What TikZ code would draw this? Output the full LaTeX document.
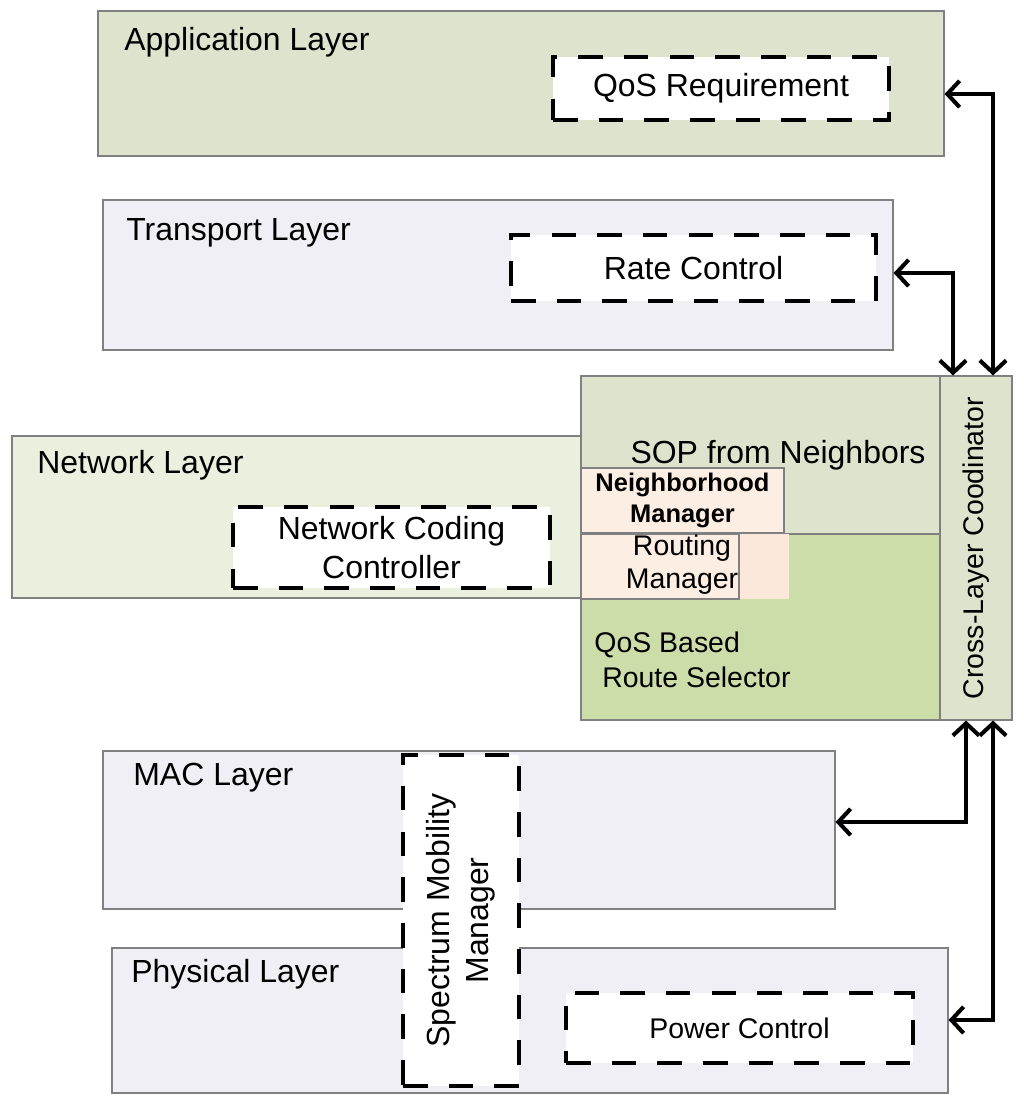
\documentclass[tikz,border=0pt]{standalone}
\usepackage{fontspec}
\setmainfont{Liberation Sans}
\usetikzlibrary{arrows.meta, positioning, calc, fit}
\definecolor{olivebg}{RGB}{221,227,204}
\definecolor{lilacbg}{RGB}{240,239,245}
\definecolor{netbg}{RGB}{235,239,222}
\definecolor{greenbg}{RGB}{204,221,170}
\definecolor{peachbg}{RGB}{253,238,227}
\definecolor{peachext}{RGB}{252,232,218}
\tikzset{
  layer/.style={rectangle, draw=black!50, line width=0.6pt, inner sep=0pt},
  module/.style={rectangle, draw=black, fill=white, line width=2.3pt,
    dash pattern=on 14pt off 12pt, inner sep=0pt},
  lname/.style={anchor=base west, inner sep=0pt, font=\fontsize{18.2}{22}\selectfont},
  mtext/.style={align=center, inner sep=0pt, font=\fontsize{18.2}{22}\selectfont},
  stext/.style={align=center, inner sep=0pt, font=\fontsize{16.2}{19}\selectfont},
  edge/.style={{Straight Barb[length=7pt, width=15pt]}-{Straight Barb[length=7pt, width=15pt]}, line width=2.3pt}
}

\begin{document}
\begin{tikzpicture}[x=0.02cm, y=-0.02cm]
    \useasboundingbox (0,0) rectangle (1024,1106);
    % protocol stack
    \node[layer, fill=olivebg, fit={(98,11) (944,156)}] (app) {};
    \node[layer, fill=lilacbg, fit={(103,200) (893,350)}] (trans) {};
    \node[layer, fill=netbg, fit={(12,436) (590,598)}] (net) {};
    \node[layer, fill=lilacbg, fit={(103,751) (835,909)}] (mac) {};
    \node[layer, fill=lilacbg, fit={(112,948) (948,1093)}] (phy) {};
    \node[lname] at (124,50) {Application Layer};
    \node[lname] at (126,240) {Transport Layer};
    \node[lname] at (37,473) {Network Layer};
    \node[lname] at (133,785) {MAC Layer};
    \node[lname] at (131,982) {Physical Layer};
    % routing block and coordinator
    \node[layer, fill=olivebg, fit={(581,376) (940,534)}] (sop) {};
    \node[layer, fill=greenbg, fit={(581,534) (940,720)}] (qrs) {};
    \node[layer, fill=olivebg, fit={(940,376) (1012,720)}] (clc) {};
    \fill[peachext] (739,534) rectangle (789,599);
    \node[layer, fill=peachbg, fit={(581,468) (784,533)}] (nbm) {};
    \node[layer, fill=peachbg, fit={(581,534) (739,599)}] (rtm) {};
    \node[mtext, anchor=base] at (778,463) {SOP from Neighbors};
    \node[stext, font=\fontsize{14.5}{17.6}\selectfont\bfseries] at (nbm) {Neighborhood\\Manager};
    \node[stext, font=\fontsize{16.2}{18.8}\selectfont] at (682,565) {Routing\\Manager};
    \node[stext, align=left, anchor=west, font=\fontsize{16.2}{20}\selectfont] at (594,660) {QoS Based\\\hspace*{4.5pt}Route Selector};
    \node[stext, rotate=90] at (clc) {Cross-Layer Coodinator};
    % modules
    \node[module, fit={(553,57) (889,120)}] (qos) {};
    \node[module, fit={(511,235) (876,301)}] (rate) {};
    \node[module, fit={(233,507) (550,588)}] (ncc) {};
    \node[module, fit={(403,755) (519,1086)}] (smm) {};
    \node[module, fit={(566,993) (913,1063)}] (pwr) {};
    \node[mtext] at (qos) {QoS Requirement};
    \node[mtext] at (rate) {Rate Control};
    \node[mtext] at (ncc) {Network Coding\\Controller};
    \node[mtext, rotate=90] at (smm) {Spectrum Mobility\\Manager};
    \node[stext] at (pwr) {Power Control};
    % cross-layer links
    \draw[edge] (clc.north -| 993,0) |- (app.east |- 0,94);
    \draw[edge] (clc.north -| 953,0) |- (trans.east |- 0,273);
    \draw[edge] (clc.south -| 966,0) |- (mac.east |- 0,822);
    \draw[edge] (clc.south -| 993,0) |- (phy.east |- 0,1020);
\end{tikzpicture}
\end{document}
